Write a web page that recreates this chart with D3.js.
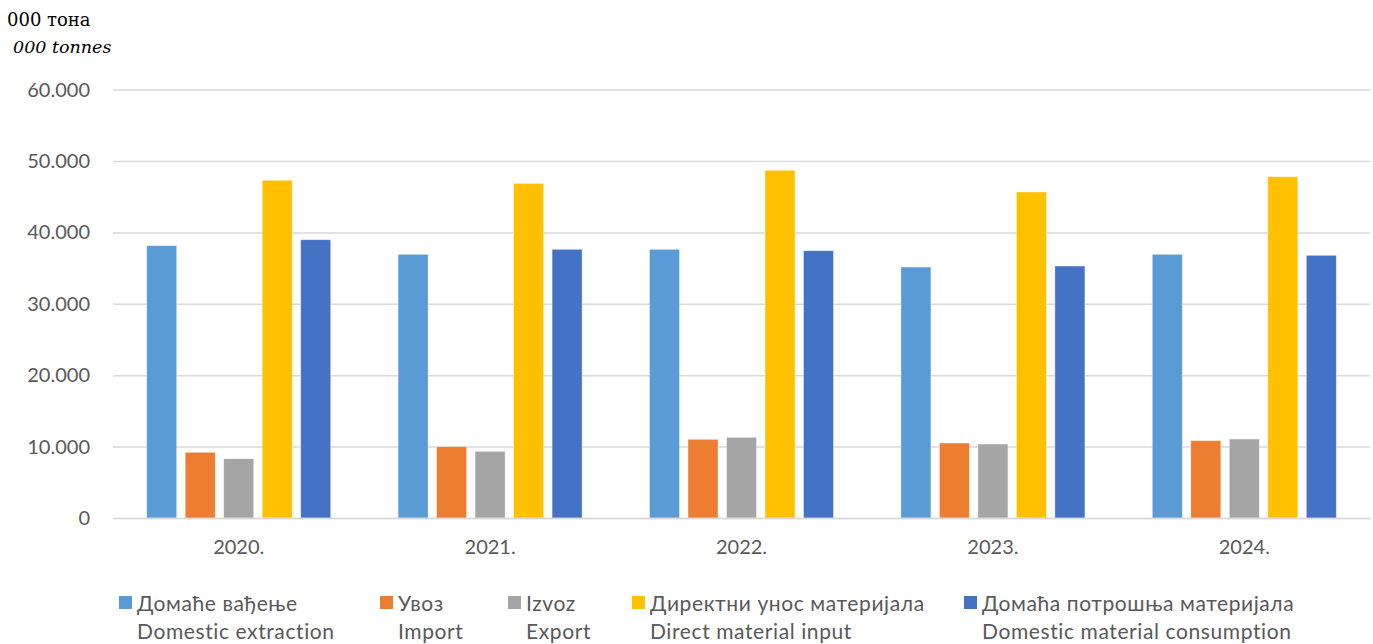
<!DOCTYPE html>
<html>
<head>
<meta charset="utf-8">
<script src="https://cdn.jsdelivr.net/npm/d3@7"></script>
<style>
    body { margin: 0; background: #fff; }
    svg { display: block; }
</style>
</head>
<body>
<div id="chart"></div>
<script>
const YEARS = ["2020.", "2021.", "2022.", "2023.", "2024."];

const SERIES_KEYS = ["extraction", "import", "export", "dmi", "dmc"];
const SERIES_LABELS_SR = ["Домаће вађење", "Увоз", "Izvoz", "Директни унос материјала", "Домаћа потрошња материјала"];
const SERIES_LABELS_EN = ["Domestic extraction", "Import", "Export", "Direct material input", "Domestic material consumption"];
const SERIES_COLORS = ["#5b9bd5", "#ed7d31", "#a5a5a5", "#ffc000", "#4472c4"];

const EXTRACTION = [38140, 36930, 37630, 35150, 36930];
const IMPORT = [9200, 9990, 11020, 10500, 10830];
const EXPORT = [8300, 9340, 11300, 10360, 11060];
const DMI = [47300, 46870, 48700, 45660, 47800];
const DMC = [38980, 37630, 37440, 35290, 36790];

const Y_TICKS = [0, 10000, 20000, 30000, 40000, 50000, 60000];
const LEGEND_X = [119, 380, 508, 632, 964];

const width = 1373;
const height = 644;
const margin = { top: 89.6, right: 3, bottom: 126, left: 113 };
const plotWidth = width - margin.left - margin.right;
const plotHeight = height - margin.top - margin.bottom;

const seriesValues = [EXTRACTION, IMPORT, EXPORT, DMI, DMC];
const rows = YEARS.map((year, i) => {
    const row = { year: year };
    SERIES_KEYS.forEach((k, j) => row[k] = seriesValues[j][i]);
    return row;
});

const svg = d3.select("#chart").append("svg")
    .attr("width", width)
    .attr("height", height);

// unit label top left
svg.append("text")
    .attr("x", 7).attr("y", 26)
    .style("font-family", "'DejaVu Serif', serif")
    .style("font-size", "18px")
    .style("fill", "#000")
    .text("000 тона");
svg.append("text")
    .attr("x", 13).attr("y", 53)
    .style("font-family", "'DejaVu Serif', serif")
    .style("font-style", "italic")
    .style("font-size", "17.5px")
    .style("fill", "#000")
    .text("000 tonnes");

const g = svg.append("g")
    .attr("transform", `translate(${margin.left}, ${margin.top})`);

const x0 = d3.scaleBand()
    .domain(YEARS)
    .range([0, plotWidth])
    .padding(0);

const x1 = d3.scaleBand()
    .domain(SERIES_KEYS)
    .range([0, x0.bandwidth()])
    .paddingInner(0.22)
    .paddingOuter(0.875);

const y = d3.scaleLinear()
    .domain([0, 60000])
    .range([plotHeight, 0]);

const color = d3.scaleOrdinal()
    .domain(SERIES_KEYS)
    .range(SERIES_COLORS);

const fmt = v => d3.format(",")(v).replace(/,/g, ".");

// gridlines + y labels
const yAxis = g.append("g")
    .call(d3.axisLeft(y).tickValues(Y_TICKS).tickSize(-plotWidth).tickFormat(fmt).tickPadding(23));
yAxis.select(".domain").remove();
yAxis.selectAll(".tick line")
    .attr("stroke", "#d9d9d9")
    .attr("stroke-width", 1.5);
yAxis.selectAll(".tick text")
    .style("font-family", "Lato, sans-serif")
    .style("font-size", "20px")
    .style("fill", "#595959");

// bars
g.selectAll(".year")
    .data(rows)
    .enter()
    .append("g")
    .attr("class", "year")
    .attr("transform", d => `translate(${x0(d.year)}, 0)`)
    .selectAll("rect")
    .data(d => SERIES_KEYS.map(k => ({ key: k, value: d[k] })))
    .enter()
    .append("rect")
    .attr("x", d => x1(d.key))
    .attr("y", d => y(d.value))
    .attr("width", x1.bandwidth())
    .attr("height", d => plotHeight - y(d.value))
    .attr("fill", d => color(d.key))
    .attr("stroke", "#ffffff")
    .attr("stroke-opacity", 0.5)
    .attr("stroke-width", 0.8);

// x axis labels
const xAxis = g.append("g")
    .attr("transform", `translate(0, ${plotHeight})`)
    .call(d3.axisBottom(x0).tickSize(0).tickPadding(22));
xAxis.select(".domain")
    .attr("stroke", "#d9d9d9")
    .attr("stroke-width", 1.5);
xAxis.selectAll(".tick text")
    .style("font-family", "Lato, sans-serif")
    .style("font-size", "20px")
    .style("fill", "#595959");

// legend
const legend = svg.append("g").attr("class", "legend");
SERIES_KEYS.forEach((k, i) => {
    const item = legend.append("g")
        .attr("transform", `translate(${LEGEND_X[i]}, 0)`);
    item.append("rect")
        .attr("x", 0).attr("y", 596)
        .attr("width", 13).attr("height", 13)
        .attr("fill", SERIES_COLORS[i]);
    item.append("text")
        .attr("x", 18).attr("y", 611)
        .style("font-family", "Lato, sans-serif")
        .style("font-size", "21px")
        .style("letter-spacing", "0.6px")
        .style("fill", "#595959")
        .text(SERIES_LABELS_SR[i]);
    item.append("text")
        .attr("x", 18).attr("y", 639)
        .style("font-family", "Lato, sans-serif")
        .style("font-size", "21px")
        .style("letter-spacing", "0.6px")
        .style("fill", "#595959")
        .text(SERIES_LABELS_EN[i]);
});
</script>
</body>
</html>
